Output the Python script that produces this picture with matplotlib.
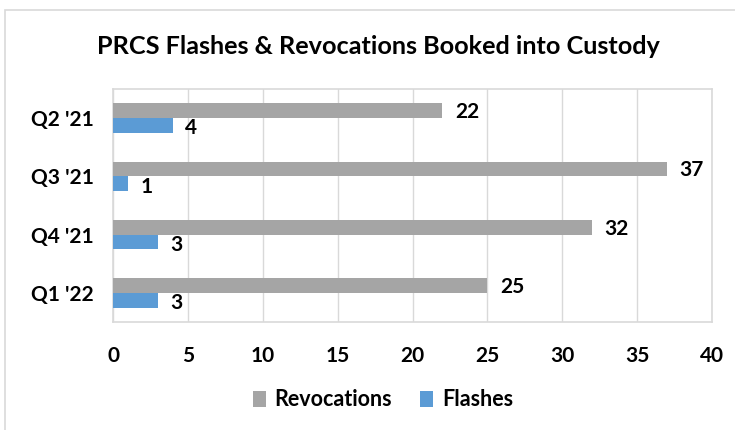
import numpy as np
import matplotlib.pyplot as plt
from matplotlib.patches import Rectangle

quarters = ["Q2 '21", "Q3 '21", "Q4 '21", "Q1 '22"]
revocations = [22, 37, 32, 25]
flashes = [4, 1, 3, 3]

plt.rcParams['font.family'] = ['Lato', 'DejaVu Sans']
plt.rcParams['font.weight'] = 'bold'

fig = plt.figure(figsize=(7.35, 4.3), dpi=100)
# chart frame like the spreadsheet chart area
fig.patches.append(Rectangle((5 / 735, -0.1), 2, 1 - 10 / 430 + 0.1, transform=fig.transFigure,
                             fill=False, edgecolor='#D9D9D9', linewidth=1.2))

ax = fig.add_axes([113 / 735, 1 - 322 / 430, 599 / 735, 233 / 430])

y = np.arange(len(quarters))
h = 0.255
gray = '#A5A5A5'
blue = '#5B9BD5'
b1 = ax.barh(y - h / 2, revocations, height=h, color=gray, label='Revocations', zorder=3)
b2 = ax.barh(y + h / 2, flashes, height=h, color=blue, label='Flashes', zorder=3)

for rect, v in zip(b1, revocations):
    ax.annotate(str(v), (rect.get_width(), rect.get_y() + rect.get_height() / 2),
                xytext=(9, -1), textcoords='offset points', va='center', ha='left',
                fontsize=15, fontweight='bold')
for rect, v in zip(b2, flashes):
    ax.annotate(str(v), (rect.get_width(), rect.get_y() + rect.get_height() / 2),
                xytext=(9, -2), textcoords='offset points', va='center', ha='left',
                fontsize=15, fontweight='bold')

ax.set_xlim(0, 40)
ax.set_xticks(range(0, 41, 5))
ax.set_ylim(len(quarters) - 0.5, -0.5)
ax.set_yticks(y)
ax.set_yticklabels(quarters)
ax.tick_params(length=0, labelsize=15, pad=14)
ax.tick_params(axis='x', pad=17)
ax.grid(axis='x', color='#D9D9D9', linewidth=1, zorder=0)
for s in ax.spines.values():
    s.set_color('#D9D9D9')
    s.set_linewidth(1.2)

fig.text(378 / 735, 1 - 47 / 430, 'PRCS Flashes & Revocations Booked into Custody',
         ha='center', va='center', fontsize=18.2, fontweight='bold')

fig.legend(handles=[b1, b2], loc='center', bbox_to_anchor=(383 / 735, 1 - 400 / 430),
           ncol=2, frameon=False, fontsize=15.5, handlelength=0.6, handleheight=0.8,
           handletextpad=0.4, columnspacing=1.3)

fig.savefig('out.png', dpi=100)
